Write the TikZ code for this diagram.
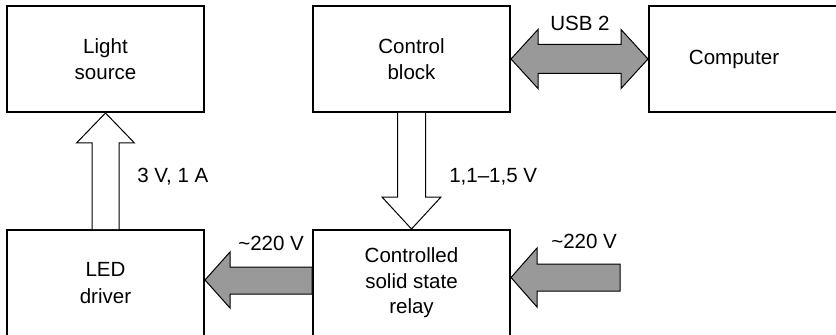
\documentclass[tikz,border=0pt]{standalone}
\usepackage{fontspec}
\setmainfont{Liberation Sans}
\usepackage{tikz}
\usetikzlibrary{positioning, calc}

\definecolor{arrgray}{RGB}{153,153,153}

\tikzset{
  blk/.style={draw, line width=1.5pt, minimum width=147.75pt, minimum height=79.5pt,
    align=center, inner sep=0pt, font=\fontsize{15.4}{20}\selectfont},
  lbl/.style={inner sep=0pt, font=\fontsize{15.4}{20}\selectfont},
  hollow/.style={draw, line width=0.75pt, fill=white, line join=miter},
  grayarr/.style={draw, line width=0.75pt, fill=arrgray, line join=miter}
}

\begin{document}
\begin{tikzpicture}[x=0.75pt, y=-0.75pt]
      \useasboundingbox (0,0) rectangle (836,335);

      % blocks
      \node[blk] (light) at (105.5,59) {Light\\source};
      \node[blk] (ctrl) at (411.5,59) {Control\\block};
      \node[blk, label={[lbl, xshift=-10.1pt]center:Computer}] (comp) at (747.5,59) {};
      \node[blk] (led) at (105.5,283) {LED\\driver};
      \node[blk, font=\fontsize{15.4}{19.2}\selectfont] (relay) at (411.5,283) {Controlled\\solid state\\relay};
      \coordinate (mains) at (620,277.5);

      % driver -> light source
      \draw[hollow] ($(led.north)+(-13.5,0)$) -- ($(light.south)+(-13.5,30)$) -- ($(light.south)+(-29,30)$)
        -- (light.south) -- ($(light.south)+(29,30)$) -- ($(light.south)+(13.5,30)$) -- ($(led.north)+(13.5,0)$);

      % control -> relay
      \draw[hollow] ($(ctrl.south)+(-14,0)$) -- ($(relay.north)+(-14,-32)$) -- ($(relay.north)+(-29.5,-32)$)
        -- (relay.north) -- ($(relay.north)+(29.5,-32)$) -- ($(relay.north)+(14,-32)$) -- ($(ctrl.south)+(14,0)$);

      % usb
      \draw[grayarr] (ctrl.east) -- ($(ctrl.east)+(27,-29.5)$) -- ($(ctrl.east)+(27,-14.5)$)
        -- ($(comp.west)+(-27,-14.5)$) -- ($(comp.west)+(-27,-29.5)$) -- (comp.west)
        -- ($(comp.west)+(-27,29.5)$) -- ($(comp.west)+(-27,14.5)$)
        -- ($(ctrl.east)+(27,14.5)$) -- ($(ctrl.east)+(27,29.5)$) -- cycle;

      % relay -> driver
      \draw[grayarr] ($(relay.west)+(0,-16)$) -- ($(led.east)+(25,-16)$) -- ($(led.east)+(25,-31)$)
        -- ($(led.east)+(0,-3)$) -- ($(led.east)+(25,25)$) -- ($(led.east)+(25,11)$)
        -- ($(relay.west)+(0,11)$) -- cycle;

      % mains -> relay
      \draw[grayarr] ($(relay.east)+(0,-5.5)$) -- ($(relay.east)+(26,-35)$) -- ($(relay.east)+(26,-19)$)
        -- ($(mains)+(0,-13.5)$) -- ($(mains)+(0,13.5)$) -- ($(relay.east)+(26,8)$)
        -- ($(relay.east)+(26,24)$) -- cycle;

      % labels
      \node[lbl, anchor=west] (lblpow) at (137,177) {3 V, 1 A};
      \node[lbl, anchor=west] (lblctl) at (449,177) {1,1--1,5 V};
      \node[lbl] (lblusb) at (580,23) {USB 2};
      \node[lbl, anchor=west] (lblac1) at (238,243) {\textasciitilde 220 V};
      \node[lbl, anchor=west] (lblac2) at (551,241) {\textasciitilde 220 V};
\end{tikzpicture}
\end{document}
